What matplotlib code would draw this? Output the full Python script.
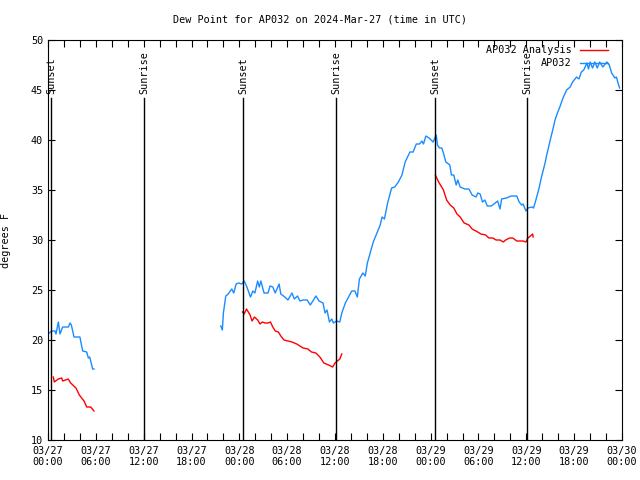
import matplotlib
matplotlib.use("Agg")
import matplotlib.pyplot as plt

# hours since 2024-03-27 00:00 UTC
obs_t1 = [0.04, 0.46, 0.88, 1.0, 1.3, 1.5, 1.84, 2.55, 2.76, 2.93, 3.26, 4.0, 4.35, 4.86, 5.06, 5.23, 5.6, 5.77]
obs_v1 = [20.6, 20.9, 20.9, 20.6, 21.8, 20.6, 21.3, 21.3, 21.7, 21.5, 20.3, 20.3, 18.9, 18.8, 18.2, 18.3, 17.1, 17.1]

obs_t2 = [21.67, 21.87, 22.0, 22.3, 22.6, 23.05, 23.3, 23.6, 23.9, 24.3, 24.6, 24.9, 25.4, 25.7, 25.95,
          26.3, 26.5, 26.7, 27.1, 27.6, 27.85, 28.2, 28.5, 28.99, 29.2, 29.7, 30.1, 30.6, 30.9, 31.3,
          31.6, 32.0, 32.5, 32.9, 33.3, 33.6, 34.0, 34.5, 34.75, 35.0, 35.3, 35.6, 35.8, 36.2, 36.6,
          36.85, 37.3, 37.7, 38.1, 38.5, 38.8, 39.06, 39.5, 39.8, 40.06, 40.8, 41.67, 41.9, 42.2,
          42.6, 43.1, 43.5, 43.95, 44.4, 44.8, 45.4, 45.8, 46.2, 46.6, 46.9, 47.1, 47.4, 47.8,
          48.3, 48.7, 48.85, 49.1, 49.4, 49.6, 49.9, 50.4, 50.6, 50.9, 51.2, 51.4, 51.7, 52.3,
          52.8, 53.2, 53.7, 53.9, 54.2, 54.5, 54.8, 55.1, 55.6, 56.1, 56.4, 56.7, 56.9, 57.5,
          58.1, 58.8, 59.1, 59.4, 59.6, 59.95, 60.2, 60.7, 60.9, 61.2, 61.6, 61.9, 62.35, 62.5,
          63.0, 63.4, 63.6, 63.9, 64.2, 64.6, 65.05, 65.5, 65.8, 66.3, 66.6, 66.9, 67.2, 67.6,
          67.8, 68.0, 68.3, 68.6, 68.9, 69.2, 69.6, 70.1, 70.4, 70.7, 71.1, 71.3, 71.5, 71.7]
obs_v2 = [21.4, 21.0, 22.7, 24.4, 24.6, 25.1, 24.7, 25.6, 25.7, 25.6, 25.9, 25.4, 24.3, 24.9, 24.7,
          25.9, 25.3, 25.9, 24.7, 24.7, 25.4, 25.3, 24.7, 25.6, 24.6, 24.3, 24.0, 24.7, 24.1, 24.4,
          23.9, 24.0, 24.0, 23.5, 24.0, 24.4, 23.9, 23.7, 22.7, 23.0, 21.8, 22.1, 21.7, 21.9, 21.8,
          22.7, 23.7, 24.3, 24.9, 24.9, 24.3, 26.1, 26.7, 26.4, 27.7, 29.8, 31.5, 32.3, 32.1,
          33.7, 35.2, 35.3, 35.8, 36.5, 37.8, 38.8, 38.8, 39.6, 39.6, 39.9, 39.6, 40.4, 40.2,
          39.8, 40.5, 39.5, 39.2, 39.2, 38.7, 37.8, 37.5, 36.5, 36.5, 35.5, 36.0, 35.3, 35.1,
          35.1, 34.5, 34.3, 34.7, 34.6, 33.8, 34.0, 33.4, 33.4, 33.7, 33.9, 33.1, 34.1, 34.2,
          34.4, 34.4, 33.8, 33.5, 33.6, 32.9, 33.2, 33.3, 33.2, 34.0, 35.2, 36.3, 37.7, 38.3,
          40.0, 41.3, 42.0, 42.7, 43.3, 44.2, 45.0, 45.3, 45.8, 46.3, 46.1, 46.8, 47.0, 47.7,
          47.1, 47.8, 47.2, 47.8, 47.2, 47.8, 47.3, 47.8, 47.5, 46.7, 46.2, 46.3, 45.7, 45.2]

ana_t1 = [0.67, 0.79, 1.29, 1.72, 1.84, 2.55, 2.84, 3.51, 3.93, 4.52, 4.86, 5.36, 5.77]
ana_v1 = [16.3, 15.8, 16.1, 16.2, 15.9, 16.1, 15.7, 15.2, 14.5, 13.9, 13.3, 13.3, 12.9]

ana_t2 = [24.4, 24.6, 24.9, 25.35, 25.6, 25.9, 26.3, 26.6, 26.9, 27.2, 27.6, 27.9, 28.2, 28.5,
          28.9, 29.2, 29.6, 30.1, 30.6, 31.2, 31.6, 32.0, 32.6, 33.05, 33.6, 34.1, 34.6, 35.2,
          35.7, 36.0, 36.45, 36.6, 36.85]
ana_v2 = [22.8, 22.6, 23.1, 22.5, 21.9, 22.3, 22.0, 21.6, 21.8, 21.7, 21.7, 21.8, 21.3, 20.9,
          20.8, 20.4, 20.0, 19.9, 19.8, 19.6, 19.4, 19.2, 19.1, 18.8, 18.7, 18.3, 17.7, 17.5,
          17.3, 17.7, 18.0, 18.1, 18.6]

ana_t3 = [48.6, 48.7, 49.0, 49.6, 50.0, 50.45, 50.9, 51.3, 51.7, 52.2, 52.8, 53.2, 53.9, 54.3,
          54.9, 55.3, 55.8, 56.2, 56.7, 57.1, 57.4, 57.9, 58.3, 58.8, 59.6, 59.95, 60.2, 60.5,
          60.8, 60.85]
ana_v3 = [36.5, 36.3, 35.8, 35.0, 34.0, 33.5, 33.2, 32.6, 32.3, 31.7, 31.5, 31.1, 30.8, 30.6,
          30.5, 30.2, 30.2, 30.0, 30.0, 29.8, 30.0, 30.2, 30.2, 29.9, 29.9, 29.8, 30.2, 30.4,
          30.6, 30.3]

sun_t = [0.38, 12.08, 24.5, 36.15, 48.6, 60.1]
sun_lbl = ["Sunset", "Sunrise", "Sunset", "Sunrise", "Sunset", "Sunrise"]

xtick_pos = [0, 6, 12, 18, 24, 30, 36, 42, 48, 54, 60, 66, 72]
xtick_lbl = ["03/27\n00:00", "03/27\n06:00", "03/27\n12:00", "03/27\n18:00",
             "03/28\n00:00", "03/28\n06:00", "03/28\n12:00", "03/28\n18:00",
             "03/29\n00:00", "03/29\n06:00", "03/29\n12:00", "03/29\n18:00",
             "03/30\n00:00"]

plt.rcParams['font.family'] = ['DejaVu Sans Mono']
plt.rcParams['font.size'] = 7.3

fig = plt.figure(figsize=(6.4, 4.8), dpi=100)
ax = fig.add_axes([48 / 640, 40 / 480, 574 / 640, 400 / 480])

red = '#ff0000'
blue = '#1a8cff'
ax.plot(ana_t1, ana_v1, color=red, lw=1, label='AP032 Analysis')
ax.plot(ana_t2, ana_v2, color=red, lw=1)
ax.plot(ana_t3, ana_v3, color=red, lw=1)
ax.plot(obs_t1, obs_v1, color=blue, lw=1, label='AP032')
ax.plot(obs_t2, obs_v2, color=blue, lw=1)

for t, lbl in zip(sun_t, sun_lbl):
    ax.plot([t, t], [10, 44.2], color='black', lw=1)
    ax.text(t, 44.6, lbl, rotation=90, ha='center', va='bottom')

ax.set_xlim(0, 72)
ax.set_ylim(10, 50)
ax.set_xticks(xtick_pos)
ax.set_xticklabels(xtick_lbl)
ax.set_xticks(range(0, 73, 2), minor=True)
ax.set_yticks(range(10, 51, 5))
ax.tick_params(which='both', direction='in', top=True, right=True, length=5, width=0.8)
ax.tick_params(axis='x', pad=4)

ax.set_ylabel('degrees F', labelpad=14)
fig.text(0.5, 0.96, 'Dew Point for AP032 on 2024-Mar-27 (time in UTC)', ha='center', va='center')

ax.legend(loc='upper right', bbox_to_anchor=(0.985, 1.0), frameon=False, markerfirst=False,
          handlelength=2.8, borderaxespad=0.3, borderpad=0.2, labelspacing=0.3, handletextpad=0.8)

fig.savefig('out.png', dpi=100)
